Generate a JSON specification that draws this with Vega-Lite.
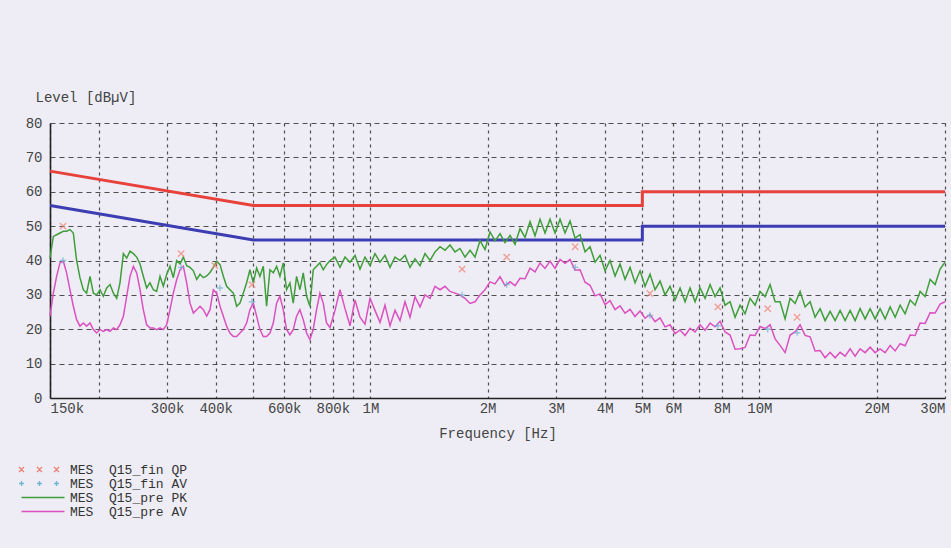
{
"$schema": "https://vega.github.io/schema/vega-lite/v6.json",
"width": 895, "height": 275,
"autosize": {"type": "none"},
"padding": {"left": 50, "top": 123, "right": 6, "bottom": 150},
"background": "#eeedf5",
"config": {"view": {"stroke": null}, "font": "Liberation Mono"},
"datasets": {
"lim": [
{"s":"QP","f":0.15,"db":66,"i":0},{"s":"QP","f":0.5,"db":56,"i":1},{"s":"QP","f":5,"db":56,"i":2},{"s":"QP","f":5,"db":60,"i":3},{"s":"QP","f":30,"db":60,"i":4},
{"s":"AV","f":0.15,"db":56,"i":0},{"s":"AV","f":0.5,"db":46,"i":1},{"s":"AV","f":5,"db":46,"i":2},{"s":"AV","f":5,"db":50,"i":3},{"s":"AV","f":30,"db":50,"i":4}
],
"pts": [
{"s":"fin_QP","f":0.162,"db":50},{"s":"fin_QP","f":0.326,"db":42},{"s":"fin_QP","f":0.398,"db":38.5},{"s":"fin_QP","f":0.496,"db":33},{"s":"fin_QP","f":1.72,"db":37.5},{"s":"fin_QP","f":2.24,"db":41},{"s":"fin_QP","f":3.36,"db":44},{"s":"fin_QP","f":5.23,"db":30.4},{"s":"fin_QP","f":7.82,"db":26.5},{"s":"fin_QP","f":10.5,"db":26},{"s":"fin_QP","f":12.5,"db":23.5},
{"s":"fin_AV","f":0.162,"db":40},{"s":"fin_AV","f":0.326,"db":38},{"s":"fin_AV","f":0.41,"db":32},{"s":"fin_AV","f":0.496,"db":28},{"s":"fin_AV","f":1.72,"db":30},{"s":"fin_AV","f":2.24,"db":33},{"s":"fin_AV","f":3.36,"db":38},{"s":"fin_AV","f":5.23,"db":24},{"s":"fin_AV","f":7.82,"db":21},{"s":"fin_AV","f":10.5,"db":20},{"s":"fin_AV","f":12.5,"db":19}
],
"trace": [
{"s":"pre_PK","f":0.1500,"db":40.7},{"s":"pre_PK","f":0.1530,"db":47},{"s":"pre_PK","f":0.1560,"db":47.5},{"s":"pre_PK","f":0.1591,"db":48},{"s":"pre_PK","f":0.1623,"db":48.5},{"s":"pre_PK","f":0.1655,"db":48.5},{"s":"pre_PK","f":0.1688,"db":49},{"s":"pre_PK","f":0.1722,"db":48},{"s":"pre_PK","f":0.1756,"db":40},{"s":"pre_PK","f":0.1791,"db":35},{"s":"pre_PK","f":0.1827,"db":31.5},{"s":"pre_PK","f":0.1863,"db":30.5},{"s":"pre_PK","f":0.1901,"db":35.4},{"s":"pre_PK","f":0.1939,"db":30.5},{"s":"pre_PK","f":0.1977,"db":30},{"s":"pre_PK","f":0.2017,"db":31.5},{"s":"pre_PK","f":0.2057,"db":29.6},{"s":"pre_PK","f":0.2098,"db":32},{"s":"pre_PK","f":0.2140,"db":33},{"s":"pre_PK","f":0.2183,"db":30.5},{"s":"pre_PK","f":0.2226,"db":29},{"s":"pre_PK","f":0.2270,"db":33.5},{"s":"pre_PK","f":0.2316,"db":42},{"s":"pre_PK","f":0.2362,"db":40.7},{"s":"pre_PK","f":0.2409,"db":42.7},{"s":"pre_PK","f":0.2457,"db":42},{"s":"pre_PK","f":0.2506,"db":41},{"s":"pre_PK","f":0.2556,"db":39},{"s":"pre_PK","f":0.2606,"db":35.4},{"s":"pre_PK","f":0.2658,"db":32},{"s":"pre_PK","f":0.2711,"db":33.5},{"s":"pre_PK","f":0.2765,"db":31.5},{"s":"pre_PK","f":0.2820,"db":31},{"s":"pre_PK","f":0.2877,"db":35.4},{"s":"pre_PK","f":0.2934,"db":32.5},{"s":"pre_PK","f":0.2993,"db":36},{"s":"pre_PK","f":0.3052,"db":38.3},{"s":"pre_PK","f":0.3113,"db":35},{"s":"pre_PK","f":0.3175,"db":40},{"s":"pre_PK","f":0.3239,"db":39},{"s":"pre_PK","f":0.3303,"db":41},{"s":"pre_PK","f":0.3369,"db":38.5},{"s":"pre_PK","f":0.3436,"db":38},{"s":"pre_PK","f":0.3505,"db":37},{"s":"pre_PK","f":0.3575,"db":34.5},{"s":"pre_PK","f":0.3646,"db":36},{"s":"pre_PK","f":0.3719,"db":35},{"s":"pre_PK","f":0.3793,"db":35.5},{"s":"pre_PK","f":0.3868,"db":36.5},{"s":"pre_PK","f":0.3945,"db":38},{"s":"pre_PK","f":0.4024,"db":39.8},{"s":"pre_PK","f":0.4104,"db":38.8},{"s":"pre_PK","f":0.4185,"db":35.4},{"s":"pre_PK","f":0.4268,"db":32.5},{"s":"pre_PK","f":0.4353,"db":31.5},{"s":"pre_PK","f":0.4440,"db":30.5},{"s":"pre_PK","f":0.4528,"db":26.7},{"s":"pre_PK","f":0.4618,"db":27.6},{"s":"pre_PK","f":0.4710,"db":30.5},{"s":"pre_PK","f":0.4804,"db":33.5},{"s":"pre_PK","f":0.4899,"db":37.3},{"s":"pre_PK","f":0.4997,"db":33.5},{"s":"pre_PK","f":0.5097,"db":37.8},{"s":"pre_PK","f":0.5198,"db":35.4},{"s":"pre_PK","f":0.5302,"db":38.3},{"s":"pre_PK","f":0.5407,"db":26.7},{"s":"pre_PK","f":0.5515,"db":37.3},{"s":"pre_PK","f":0.5625,"db":36.4},{"s":"pre_PK","f":0.5737,"db":38.3},{"s":"pre_PK","f":0.5851,"db":35.4},{"s":"pre_PK","f":0.5967,"db":39.3},{"s":"pre_PK","f":0.6086,"db":31.5},{"s":"pre_PK","f":0.6207,"db":33.5},{"s":"pre_PK","f":0.6331,"db":27.6},{"s":"pre_PK","f":0.6457,"db":35.4},{"s":"pre_PK","f":0.6586,"db":31.5},{"s":"pre_PK","f":0.6717,"db":36.4},{"s":"pre_PK","f":0.6851,"db":29.6},{"s":"pre_PK","f":0.6987,"db":26.7},{"s":"pre_PK","f":0.7126,"db":37.3},{"s":"pre_PK","f":0.7268,"db":38.3},{"s":"pre_PK","f":0.7413,"db":39.3},{"s":"pre_PK","f":0.7561,"db":37.3},{"s":"pre_PK","f":0.7711,"db":38.8},
{"s":"pre_PK","f":0.7870,"db":40},{"s":"pre_PK","f":0.8106,"db":41},{"s":"pre_PK","f":0.8350,"db":38},{"s":"pre_PK","f":0.8601,"db":41},{"s":"pre_PK","f":0.8859,"db":39.5},{"s":"pre_PK","f":0.9125,"db":41.5},{"s":"pre_PK","f":0.9399,"db":37.5},{"s":"pre_PK","f":0.9682,"db":41},{"s":"pre_PK","f":0.9973,"db":38.5},{"s":"pre_PK","f":1.0272,"db":42},{"s":"pre_PK","f":1.0581,"db":39.5},{"s":"pre_PK","f":1.0899,"db":41.5},{"s":"pre_PK","f":1.1226,"db":38},{"s":"pre_PK","f":1.1564,"db":41},{"s":"pre_PK","f":1.1911,"db":40},{"s":"pre_PK","f":1.2269,"db":41.5},{"s":"pre_PK","f":1.2638,"db":38},{"s":"pre_PK","f":1.3017,"db":40.5},{"s":"pre_PK","f":1.3409,"db":38.5},{"s":"pre_PK","f":1.3812,"db":42},{"s":"pre_PK","f":1.4227,"db":40},{"s":"pre_PK","f":1.4654,"db":42.5},{"s":"pre_PK","f":1.5094,"db":44},{"s":"pre_PK","f":1.5548,"db":43},{"s":"pre_PK","f":1.6015,"db":44.5},{"s":"pre_PK","f":1.6496,"db":42.5},{"s":"pre_PK","f":1.6992,"db":43.5},{"s":"pre_PK","f":1.7502,"db":41},{"s":"pre_PK","f":1.8028,"db":43},{"s":"pre_PK","f":1.8570,"db":41},{"s":"pre_PK","f":1.9128,"db":45.8},{"s":"pre_PK","f":1.9702,"db":43.2},{"s":"pre_PK","f":2.0294,"db":48.3},{"s":"pre_PK","f":2.0904,"db":45.7},{"s":"pre_PK","f":2.1532,"db":47.8},{"s":"pre_PK","f":2.2179,"db":45.2},{"s":"pre_PK","f":2.2846,"db":47.3},{"s":"pre_PK","f":2.3532,"db":44.7},{"s":"pre_PK","f":2.4239,"db":49.3},{"s":"pre_PK","f":2.4968,"db":46.7},{"s":"pre_PK","f":2.5718,"db":51.3},{"s":"pre_PK","f":2.6491,"db":47.2},{"s":"pre_PK","f":2.7287,"db":52},{"s":"pre_PK","f":2.8107,"db":48},{"s":"pre_PK","f":2.8951,"db":52},{"s":"pre_PK","f":2.9821,"db":48},{"s":"pre_PK","f":3.0717,"db":52},{"s":"pre_PK","f":3.1640,"db":48},{"s":"pre_PK","f":3.2591,"db":51.5},{"s":"pre_PK","f":3.3570,"db":46.5},{"s":"pre_PK","f":3.4579,"db":47.5},{"s":"pre_PK","f":3.5618,"db":42.5},{"s":"pre_PK","f":3.6688,"db":44},{"s":"pre_PK","f":3.7791,"db":39.5},{"s":"pre_PK","f":3.8926,"db":41.5},{"s":"pre_PK","f":4.0096,"db":37},{"s":"pre_PK","f":4.1301,"db":40},{"s":"pre_PK","f":4.2542,"db":35.5},{"s":"pre_PK","f":4.3820,"db":39},{"s":"pre_PK","f":4.5137,"db":34.5},{"s":"pre_PK","f":4.6493,"db":38},{"s":"pre_PK","f":4.7890,"db":33.5},{"s":"pre_PK","f":4.9329,"db":37},{"s":"pre_PK","f":5.0812,"db":32.5},{"s":"pre_PK","f":5.2338,"db":36},{"s":"pre_PK","f":5.3911,"db":31.5},{"s":"pre_PK","f":5.5531,"db":34},{"s":"pre_PK","f":5.7200,"db":30},{"s":"pre_PK","f":5.8919,"db":32.5},{"s":"pre_PK","f":6.0689,"db":28.5},{"s":"pre_PK","f":6.2513,"db":32},{"s":"pre_PK","f":6.4391,"db":28},{"s":"pre_PK","f":6.6326,"db":32},{"s":"pre_PK","f":6.8319,"db":28},{"s":"pre_PK","f":7.0372,"db":32},{"s":"pre_PK","f":7.2487,"db":29},{"s":"pre_PK","f":7.4665,"db":33},{"s":"pre_PK","f":7.6909,"db":29.5},{"s":"pre_PK","f":7.9220,"db":32},{"s":"pre_PK","f":8.1600,"db":27},{"s":"pre_PK","f":8.4052,"db":28},{"s":"pre_PK","f":8.6578,"db":23.5},{"s":"pre_PK","f":8.9180,"db":27},{"s":"pre_PK","f":9.1860,"db":24.5},{"s":"pre_PK","f":9.4620,"db":29},{"s":"pre_PK","f":9.7463,"db":27},{"s":"pre_PK","f":10.039,"db":31},{"s":"pre_PK","f":10.341,"db":29.5},{"s":"pre_PK","f":10.652,"db":33},{"s":"pre_PK","f":10.972,"db":28},{"s":"pre_PK","f":11.301,"db":28},{"s":"pre_PK","f":11.641,"db":23},{"s":"pre_PK","f":11.991,"db":29},{"s":"pre_PK","f":12.351,"db":27.5},{"s":"pre_PK","f":12.722,"db":31},{"s":"pre_PK","f":13.104,"db":26.5},{"s":"pre_PK","f":13.498,"db":28},{"s":"pre_PK","f":13.904,"db":23.5},{"s":"pre_PK","f":14.322,"db":26},{"s":"pre_PK","f":14.752,"db":22.5},{"s":"pre_PK","f":15.195,"db":25.2},{"s":"pre_PK","f":15.652,"db":22.5},{"s":"pre_PK","f":16.122,"db":25.5},{"s":"pre_PK","f":16.607,"db":22.5},{"s":"pre_PK","f":17.106,"db":25.5},{"s":"pre_PK","f":17.620,"db":22.5},{"s":"pre_PK","f":18.149,"db":26},{"s":"pre_PK","f":18.695,"db":23},{"s":"pre_PK","f":19.257,"db":26},{"s":"pre_PK","f":19.835,"db":23},{"s":"pre_PK","f":20.431,"db":26},{"s":"pre_PK","f":21.045,"db":23},{"s":"pre_PK","f":21.678,"db":26.5},{"s":"pre_PK","f":22.329,"db":23.5},{"s":"pre_PK","f":23.000,"db":27},{"s":"pre_PK","f":23.691,"db":24.5},{"s":"pre_PK","f":24.403,"db":28.5},{"s":"pre_PK","f":25.136,"db":27},{"s":"pre_PK","f":25.892,"db":31},{"s":"pre_PK","f":26.670,"db":29.5},{"s":"pre_PK","f":27.471,"db":34.5},{"s":"pre_PK","f":28.297,"db":33},{"s":"pre_PK","f":29.147,"db":37.5},{"s":"pre_PK","f":30,"db":39.5},
{"s":"pre_AV","f":0.1500,"db":23.8},{"s":"pre_AV","f":0.1530,"db":30.5},{"s":"pre_AV","f":0.1560,"db":35.4},{"s":"pre_AV","f":0.1591,"db":39.3},{"s":"pre_AV","f":0.1623,"db":39.8},{"s":"pre_AV","f":0.1655,"db":36.4},{"s":"pre_AV","f":0.1688,"db":31.5},{"s":"pre_AV","f":0.1722,"db":26.7},{"s":"pre_AV","f":0.1756,"db":22.8},{"s":"pre_AV","f":0.1791,"db":20.9},{"s":"pre_AV","f":0.1827,"db":21.8},{"s":"pre_AV","f":0.1863,"db":20.9},{"s":"pre_AV","f":0.1901,"db":21.8},{"s":"pre_AV","f":0.1939,"db":19.9},{"s":"pre_AV","f":0.1977,"db":18.9},{"s":"pre_AV","f":0.2017,"db":19.9},{"s":"pre_AV","f":0.2057,"db":19.4},{"s":"pre_AV","f":0.2098,"db":19.9},{"s":"pre_AV","f":0.2140,"db":19.4},{"s":"pre_AV","f":0.2183,"db":20.4},{"s":"pre_AV","f":0.2226,"db":19.9},{"s":"pre_AV","f":0.2270,"db":21.3},{"s":"pre_AV","f":0.2316,"db":23.8},{"s":"pre_AV","f":0.2362,"db":29.6},{"s":"pre_AV","f":0.2409,"db":35.4},{"s":"pre_AV","f":0.2457,"db":38.3},{"s":"pre_AV","f":0.2506,"db":36.4},{"s":"pre_AV","f":0.2556,"db":31.5},{"s":"pre_AV","f":0.2606,"db":25.7},{"s":"pre_AV","f":0.2658,"db":21.3},{"s":"pre_AV","f":0.2711,"db":20.4},{"s":"pre_AV","f":0.2765,"db":20.4},{"s":"pre_AV","f":0.2820,"db":19.9},{"s":"pre_AV","f":0.2877,"db":20.4},{"s":"pre_AV","f":0.2934,"db":19.9},{"s":"pre_AV","f":0.2993,"db":21.3},{"s":"pre_AV","f":0.3052,"db":25.7},{"s":"pre_AV","f":0.3113,"db":30.5},{"s":"pre_AV","f":0.3175,"db":34.4},{"s":"pre_AV","f":0.3239,"db":37.3},{"s":"pre_AV","f":0.3303,"db":38.3},{"s":"pre_AV","f":0.3369,"db":33.5},{"s":"pre_AV","f":0.3436,"db":27.6},{"s":"pre_AV","f":0.3505,"db":24.7},{"s":"pre_AV","f":0.3575,"db":25.7},{"s":"pre_AV","f":0.3646,"db":26.7},{"s":"pre_AV","f":0.3719,"db":25.7},{"s":"pre_AV","f":0.3793,"db":23.8},{"s":"pre_AV","f":0.3868,"db":25.7},{"s":"pre_AV","f":0.3945,"db":31.5},{"s":"pre_AV","f":0.4024,"db":30.5},{"s":"pre_AV","f":0.4104,"db":26.7},{"s":"pre_AV","f":0.4185,"db":23.8},{"s":"pre_AV","f":0.4268,"db":20.9},{"s":"pre_AV","f":0.4353,"db":18.9},{"s":"pre_AV","f":0.4440,"db":17.9},{"s":"pre_AV","f":0.4528,"db":17.9},{"s":"pre_AV","f":0.4618,"db":18.9},{"s":"pre_AV","f":0.4710,"db":19.9},{"s":"pre_AV","f":0.4804,"db":21.8},{"s":"pre_AV","f":0.4899,"db":25.7},{"s":"pre_AV","f":0.4997,"db":27.6},{"s":"pre_AV","f":0.5097,"db":23.8},{"s":"pre_AV","f":0.5198,"db":19.9},{"s":"pre_AV","f":0.5302,"db":17.9},{"s":"pre_AV","f":0.5407,"db":17.9},{"s":"pre_AV","f":0.5515,"db":18.9},{"s":"pre_AV","f":0.5625,"db":21.8},{"s":"pre_AV","f":0.5737,"db":27.6},{"s":"pre_AV","f":0.5851,"db":29.6},{"s":"pre_AV","f":0.5967,"db":25.7},{"s":"pre_AV","f":0.6086,"db":19.9},{"s":"pre_AV","f":0.6207,"db":18.4},{"s":"pre_AV","f":0.6331,"db":19.9},{"s":"pre_AV","f":0.6457,"db":23.8},{"s":"pre_AV","f":0.6586,"db":25.7},{"s":"pre_AV","f":0.6717,"db":22.8},{"s":"pre_AV","f":0.6851,"db":18.9},{"s":"pre_AV","f":0.6987,"db":17},{"s":"pre_AV","f":0.7126,"db":19.9},{"s":"pre_AV","f":0.7268,"db":25.7},{"s":"pre_AV","f":0.7413,"db":30.5},{"s":"pre_AV","f":0.7561,"db":27.6},{"s":"pre_AV","f":0.7711,"db":21.8},
{"s":"pre_AV","f":0.7870,"db":20.5},{"s":"pre_AV","f":0.8106,"db":25.5},{"s":"pre_AV","f":0.8350,"db":31.5},{"s":"pre_AV","f":0.8601,"db":26},{"s":"pre_AV","f":0.8859,"db":21},{"s":"pre_AV","f":0.9125,"db":28.5},{"s":"pre_AV","f":0.9399,"db":23.5},{"s":"pre_AV","f":0.9682,"db":21.5},{"s":"pre_AV","f":0.9973,"db":29},{"s":"pre_AV","f":1.0272,"db":25.5},{"s":"pre_AV","f":1.0581,"db":22},{"s":"pre_AV","f":1.0899,"db":27},{"s":"pre_AV","f":1.1226,"db":21},{"s":"pre_AV","f":1.1564,"db":25.5},{"s":"pre_AV","f":1.1911,"db":22.5},{"s":"pre_AV","f":1.2269,"db":28},{"s":"pre_AV","f":1.2638,"db":23.5},{"s":"pre_AV","f":1.3017,"db":29.5},{"s":"pre_AV","f":1.3409,"db":26.5},{"s":"pre_AV","f":1.3812,"db":30},{"s":"pre_AV","f":1.4227,"db":29},{"s":"pre_AV","f":1.4654,"db":32.5},{"s":"pre_AV","f":1.5094,"db":31.5},{"s":"pre_AV","f":1.5548,"db":32.5},{"s":"pre_AV","f":1.6015,"db":31},{"s":"pre_AV","f":1.6496,"db":30.5},{"s":"pre_AV","f":1.6992,"db":30},{"s":"pre_AV","f":1.7502,"db":29},{"s":"pre_AV","f":1.8028,"db":27.5},{"s":"pre_AV","f":1.8570,"db":28},{"s":"pre_AV","f":1.9128,"db":30},{"s":"pre_AV","f":1.9702,"db":31.5},{"s":"pre_AV","f":2.0294,"db":33.8},{"s":"pre_AV","f":2.0904,"db":33.2},{"s":"pre_AV","f":2.1532,"db":35.3},{"s":"pre_AV","f":2.2179,"db":32.7},{"s":"pre_AV","f":2.2846,"db":33.8},{"s":"pre_AV","f":2.3532,"db":32.7},{"s":"pre_AV","f":2.4239,"db":34.8},{"s":"pre_AV","f":2.4968,"db":34.7},{"s":"pre_AV","f":2.5718,"db":37.8},{"s":"pre_AV","f":2.6491,"db":36.7},{"s":"pre_AV","f":2.7287,"db":39.3},{"s":"pre_AV","f":2.8107,"db":37.7},{"s":"pre_AV","f":2.8951,"db":39.8},{"s":"pre_AV","f":2.9821,"db":37.7},{"s":"pre_AV","f":3.0717,"db":40.3},{"s":"pre_AV","f":3.1640,"db":39.2},{"s":"pre_AV","f":3.2591,"db":40.3},{"s":"pre_AV","f":3.3570,"db":37.2},{"s":"pre_AV","f":3.4579,"db":37.3},{"s":"pre_AV","f":3.5618,"db":33.7},{"s":"pre_AV","f":3.6688,"db":32.8},{"s":"pre_AV","f":3.7791,"db":29.7},{"s":"pre_AV","f":3.8926,"db":30.3},{"s":"pre_AV","f":4.0096,"db":27.2},{"s":"pre_AV","f":4.1301,"db":28.3},{"s":"pre_AV","f":4.2542,"db":25.7},{"s":"pre_AV","f":4.3820,"db":26.8},{"s":"pre_AV","f":4.5137,"db":24.7},{"s":"pre_AV","f":4.6493,"db":25.8},{"s":"pre_AV","f":4.7890,"db":23.7},{"s":"pre_AV","f":4.9329,"db":25.3},{"s":"pre_AV","f":5.0812,"db":23.2},{"s":"pre_AV","f":5.2338,"db":24.3},{"s":"pre_AV","f":5.3911,"db":22.2},{"s":"pre_AV","f":5.5531,"db":23.3},{"s":"pre_AV","f":5.7200,"db":20.7},{"s":"pre_AV","f":5.8919,"db":21.3},{"s":"pre_AV","f":6.0689,"db":18.7},{"s":"pre_AV","f":6.2513,"db":19.8},{"s":"pre_AV","f":6.4391,"db":18.2},{"s":"pre_AV","f":6.6326,"db":20.3},{"s":"pre_AV","f":6.8319,"db":19.2},{"s":"pre_AV","f":7.0372,"db":21.3},{"s":"pre_AV","f":7.2487,"db":19.7},{"s":"pre_AV","f":7.4665,"db":21.8},{"s":"pre_AV","f":7.6909,"db":20.7},{"s":"pre_AV","f":7.9220,"db":22.3},{"s":"pre_AV","f":8.1600,"db":19.2},{"s":"pre_AV","f":8.4052,"db":18.3},{"s":"pre_AV","f":8.6578,"db":14.2},{"s":"pre_AV","f":8.9180,"db":14.3},{"s":"pre_AV","f":9.1860,"db":14.7},{"s":"pre_AV","f":9.4620,"db":18.3},{"s":"pre_AV","f":9.7463,"db":18.2},{"s":"pre_AV","f":10.039,"db":20.8},{"s":"pre_AV","f":10.341,"db":20.2},{"s":"pre_AV","f":10.652,"db":21.3},{"s":"pre_AV","f":10.972,"db":17.2},{"s":"pre_AV","f":11.301,"db":15.3},{"s":"pre_AV","f":11.641,"db":13.2},{"s":"pre_AV","f":11.991,"db":18.3},{"s":"pre_AV","f":12.351,"db":19.2},{"s":"pre_AV","f":12.722,"db":21.3},{"s":"pre_AV","f":13.104,"db":18.2},{"s":"pre_AV","f":13.498,"db":17.8},{"s":"pre_AV","f":13.904,"db":13.7},{"s":"pre_AV","f":14.322,"db":13.8},{"s":"pre_AV","f":14.752,"db":11.7},{"s":"pre_AV","f":15.195,"db":13.3},{"s":"pre_AV","f":15.652,"db":11.7},{"s":"pre_AV","f":16.122,"db":13.3},{"s":"pre_AV","f":16.607,"db":12.2},{"s":"pre_AV","f":17.106,"db":14.3},{"s":"pre_AV","f":17.620,"db":12.2},{"s":"pre_AV","f":18.149,"db":14.3},{"s":"pre_AV","f":18.695,"db":13.2},{"s":"pre_AV","f":19.257,"db":14.8},{"s":"pre_AV","f":19.835,"db":13.2},{"s":"pre_AV","f":20.431,"db":14.3},{"s":"pre_AV","f":21.045,"db":13.2},{"s":"pre_AV","f":21.678,"db":15.3},{"s":"pre_AV","f":22.329,"db":13.7},{"s":"pre_AV","f":23.000,"db":15.8},{"s":"pre_AV","f":23.691,"db":15.2},{"s":"pre_AV","f":24.403,"db":18.3},{"s":"pre_AV","f":25.136,"db":18.2},{"s":"pre_AV","f":25.892,"db":21.8},{"s":"pre_AV","f":26.670,"db":21.7},{"s":"pre_AV","f":27.471,"db":24.8},{"s":"pre_AV","f":28.297,"db":24.7},{"s":"pre_AV","f":29.147,"db":27.3},{"s":"pre_AV","f":30,"db":28}
]
},
"encoding": {
  "x": {"field": "f", "type": "quantitative",
    "scale": {"type": "log", "domain": [0.15, 30], "nice": false},
    "axis": {"values": [0.15,0.2,0.3,0.4,0.5,0.6,0.7,0.8,0.9,1,2,3,4,5,6,7,8,9,10,20,30],
      "labelExpr": "indexof([0.2,0.5,0.7,0.9,7,9], datum.value) >= 0 ? '' : (datum.value < 1 ? round(datum.value*1000) + 'k' : datum.value + 'M')",
      "labelFlush": true, "labelOverlap": false, "labelPadding": 3,
      "labelFont": "Liberation Mono", "labelFontSize": 14, "labelColor": "#444",
      "title": "Frequency [Hz]", "titleY": 35, "titleBaseline": "middle",
      "titleFont": "Liberation Mono", "titleFontSize": 14, "titleFontWeight": "normal", "titleColor": "#444",
      "grid": true, "gridDash": [3, 4], "gridColor": "#333", "gridWidth": 1.2, "gridOpacity": 0.85,
      "ticks": false, "domainColor": "#222", "domainWidth": 1.6}},
  "y": {"field": "db", "type": "quantitative",
    "scale": {"domain": [0, 80], "nice": false},
    "axis": {"values": [0,10,20,30,40,50,60,70,80],
      "labelPadding": 8, "labelFont": "Liberation Mono", "labelFontSize": 14, "labelColor": "#444",
      "title": "Level [dBµV]", "titleAngle": 0, "titleAlign": "left", "titleBaseline": "middle", "titleX": -15, "titleY": -26,
      "titleFont": "Liberation Mono", "titleFontSize": 14, "titleFontWeight": "normal", "titleColor": "#444",
      "grid": true, "gridDash": [5, 4], "gridColor": "#333", "gridWidth": 1.2, "gridOpacity": 0.85,
      "ticks": false, "domainColor": "#222", "domainWidth": 1.6}}
},
"layer": [
  {"data": {"name": "lim"},
   "mark": {"type": "line", "strokeWidth": 3},
   "encoding": {
     "color": {"field": "s", "type": "nominal", "scale": {"domain": ["QP", "AV"], "range": ["#e8413c", "#3d3db3"]}, "legend": null},
     "order": {"field": "i"}}},
  {"data": {"name": "trace"},
   "mark": {"type": "line", "strokeWidth": 1.5},
   "encoding": {
     "stroke": {"field": "s", "type": "nominal",
       "scale": {"domain": ["fin_QP", "fin_AV", "pre_PK", "pre_AV"], "range": ["#ee8070", "#6fb3cf", "#3f9e3a", "#dc50c0"]},
       "legend": {"title": null, "orient": "none", "legendX": 2, "legendY": 340, "padding": 0, "rowPadding": 0,
         "symbolSize": 100, "symbolStrokeWidth": 1.3,
         "labelFont": "Liberation Mono", "labelFontSize": 13, "labelColor": "#333", "labelOffset": 5,
         "labelExpr": "'MES\u00a0\u00a0Q15_' + replace(datum.label, '_', ' ')",
         "encode": {"symbols": {"update": {"shape": {"signal": "datum.value === 'fin_QP' ? 'M-7.9,-0.5L-6.9,0.5M-7.9,0.5L-6.9,-0.5M-4.3,-0.5L-3.3,0.5M-4.3,0.5L-3.3,-0.5M-0.9,-0.5L0.1,0.5M-0.9,0.5L0.1,-0.5' : datum.value === 'fin_AV' ? 'M-7.9,0L-6.9,0M-7.4,-0.5L-7.4,0.5M-4.3,0L-3.3,0M-3.8,-0.5L-3.8,0.5M-0.9,0L0.1,0M-0.4,-0.5L-0.4,0.5' : 'M-7.4,0L1.2,0'"}}}}}}}},
  {"data": {"name": "pts"},
   "mark": {"type": "point", "filled": false, "size": 40, "strokeWidth": 1.4},
   "encoding": {
     "stroke": {"field": "s", "type": "nominal",
       "scale": {"domain": ["fin_QP", "fin_AV", "pre_PK", "pre_AV"], "range": ["#ee8070", "#6fb3cf", "#3f9e3a", "#dc50c0"]},
       "legend": null},
     "shape": {"field": "s", "type": "nominal",
       "scale": {"domain": ["fin_QP", "fin_AV"], "range": ["M-1,-1L1,1M-1,1L1,-1", "M-1,0L1,0M0,-1L0,1"]},
       "legend": null}}}
]
}
